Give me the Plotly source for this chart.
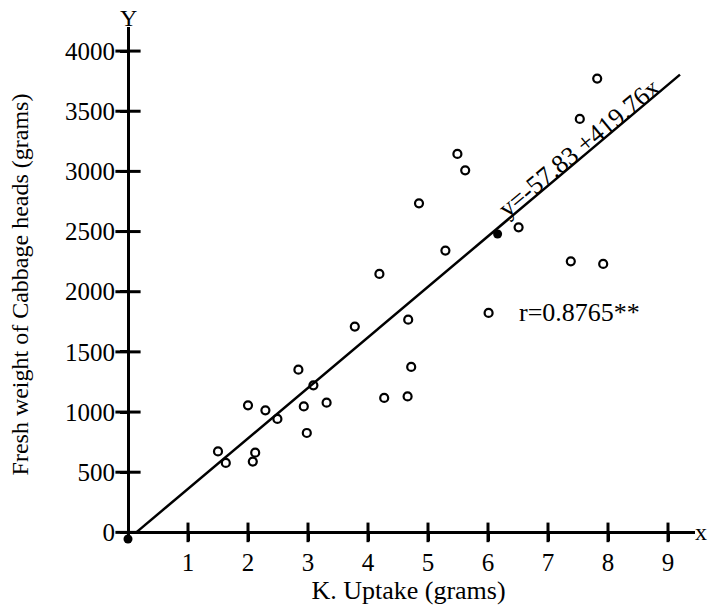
import plotly.graph_objects as go

# Data
k_uptake = [1.50, 1.63, 2.00, 2.08, 2.12, 2.29, 2.49, 2.84, 2.93, 2.98, 3.09, 3.31,
            3.78, 4.19, 4.27, 4.66, 4.67, 4.72, 4.85, 5.29, 5.49, 5.62, 6.01, 6.51,
            7.38, 7.53, 7.82, 7.92]
fresh_weight = [673, 577, 1056, 588, 662, 1014, 943, 1352, 1047, 826, 1222, 1078,
                1710, 2148, 1117, 1130, 1768, 1375, 2735, 2342, 3145, 3009, 1824, 2535,
                2253, 3436, 3771, 2231]

intercept = -57.83
slope = 419.76
line_x = [0.1378, 9.2]
line_y = [intercept + slope * v for v in line_x]

# filled reference dots (origin marker and mean point on the line)
dot_x = [0.0, 6.16]
dot_y = [-55, 2480]

x_ticks = [1, 2, 3, 4, 5, 6, 7, 8, 9]
y_ticks = [0, 500, 1000, 1500, 2000, 2500, 3000, 3500, 4000]

FONT = "Liberation Serif, Times New Roman, serif"

xr = [-0.1, 9.45]
yr = [-80, 4200]

fig = go.Figure()
fig.add_trace(go.Scatter(x=line_x, y=line_y, mode="lines",
                         line=dict(color="black", width=2.5),
                         hoverinfo="skip", cliponaxis=False))
fig.add_trace(go.Scatter(x=k_uptake, y=fresh_weight, mode="markers",
                         marker=dict(symbol="circle-open", size=8, color="black",
                                     line=dict(width=2.2, color="black")),
                         cliponaxis=False))
# crossing tick marks on the axes
fig.add_trace(go.Scatter(x=x_ticks, y=[0] * len(x_ticks), mode="markers",
                         marker=dict(symbol="line-ns", size=14,
                                     line=dict(width=3, color="black")),
                         hoverinfo="skip", cliponaxis=False))
fig.add_trace(go.Scatter(x=[0] * len(y_ticks), y=y_ticks, mode="markers",
                         marker=dict(symbol="line-ew", size=18,
                                     line=dict(width=3, color="black")),
                         hoverinfo="skip", cliponaxis=False))
fig.add_trace(go.Scatter(x=dot_x, y=dot_y, mode="markers",
                         marker=dict(symbol="circle", size=9, color="black"),
                         cliponaxis=False))

fig.update_layout(
    width=711, height=613,
    margin=dict(l=122, r=16, t=27, b=71),
    paper_bgcolor="white", plot_bgcolor="white",
    showlegend=False,
    font=dict(family=FONT, color="black", size=25),
    xaxis=dict(range=xr, tickvals=x_ticks, ticktext=[str(v) for v in x_ticks],
               anchor="free", position=(0 - yr[0]) / (yr[1] - yr[0]),
               showline=True, linecolor="black", linewidth=3,
               ticks="outside", ticklen=7, tickwidth=3, tickcolor="black",
               showgrid=False, zeroline=False, automargin=False,
               tickfont=dict(family=FONT, size=25),
               title=dict(text="K. Uptake (grams)", font=dict(family=FONT, size=26),
                          standoff=4)),
    yaxis=dict(range=yr, tickvals=y_ticks, ticktext=[str(v) for v in y_ticks],
               anchor="free", position=(0 - xr[0]) / (xr[1] - xr[0]),
               showline=True, linecolor="black", linewidth=3,
               ticks="outside", ticklen=7, tickwidth=3, tickcolor="black",
               showgrid=False, zeroline=False, automargin=False,
               tickfont=dict(family=FONT, size=25),
               title=dict(text="Fresh weight of Cabbage heads (grams)",
                          font=dict(family=FONT, size=24), standoff=28)),
)

fig.add_annotation(x=7.51, y=3190, xref="x", yref="y",
                   text="y=-57.83 +419.76x", showarrow=False, textangle=-39.6,
                   font=dict(family=FONT, size=26, color="black"))
fig.add_annotation(x=7.53, y=1829, xref="x", yref="y",
                   text="r=0.8765**", showarrow=False,
                   font=dict(family=FONT, size=26, color="black"))
fig.add_annotation(x=0, y=4200, xref="x", yref="y", yanchor="bottom",
                   text="Y", showarrow=False, yshift=-6,
                   font=dict(family=FONT, size=24, color="black"))
fig.add_annotation(x=9.45, y=0, xref="x", yref="y", xanchor="left",
                   text="x", showarrow=False, xshift=-2,
                   font=dict(family=FONT, size=24, color="black"))

fig.write_html("out.html", config={"displayModeBar": False},
               post_script="document.body.style.margin='0';document.body.style.overflow='hidden';")
